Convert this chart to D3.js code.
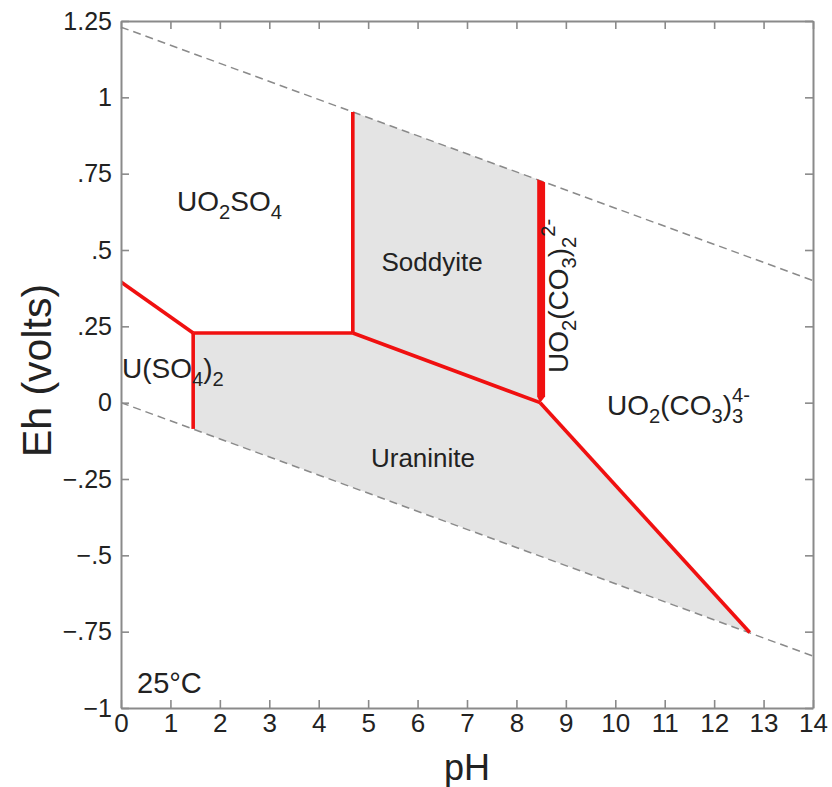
<!DOCTYPE html>
<html>
<head>
<meta charset="utf-8">
<script src="https://cdn.jsdelivr.net/npm/d3@7"></script>
<style>
  html, body { margin: 0; padding: 0; background: #fff; }
  svg { display: block; font-family: "Liberation Sans", Arial, Helvetica, sans-serif; }
</style>
</head>
<body>
<svg id="chart" width="832" height="787"></svg>
<script>
// Eh–pH diagram for the U–S–C–O–H system at 25 °C

const phTicks = [0, 1, 2, 3, 4, 5, 6, 7, 8, 9, 10, 11, 12, 13, 14];
const ehTicks = [-1, -0.75, -0.5, -0.25, 0, 0.25, 0.5, 0.75, 1, 1.25];
const ehTickLabels = ["\u22121", "\u2212.75", "\u2212.5", "\u2212.25", "0", ".25", ".5", ".75", "1", "1.25"];

// water stability limits (pH, Eh)
const upperWater = [[0, 1.23], [14, 0.40]];
const lowerWater = [[0, 0.0], [14, -0.83]];

// solid stability fields (pH, Eh)
const soddyiteField = [[4.69, 0.228], [4.69, 0.952], [8.46, 0.729], [8.46, 0.0], [8.48, 0.0]];
const uraniniteField = [[1.46, 0.228], [4.69, 0.228], [8.48, 0.0], [12.72, -0.753], [1.46, -0.086]];

// predominance boundaries (pH, Eh)
const boundaries = [
  [[0, 0.395], [1.46, 0.228]],
  [[1.46, 0.228], [1.46, -0.086]],
  [[1.46, 0.228], [4.69, 0.228]],
  [[4.69, 0.228], [4.69, 0.952]],
  [[4.69, 0.228], [8.48, 0.0]],
  [[8.48, 0.0], [12.72, -0.753]]
];
// narrow UO2(CO3)2 2- field, drawn as a filled band
const dicarbonateBand = [[8.42, 0.732], [8.58, 0.722], [8.58, 0.02], [8.48, 0.0], [8.42, 0.02]];

const svg = d3.select("#chart");
const x = d3.scaleLinear().domain([0, 14]).range([121, 813]);
const y = d3.scaleLinear().domain([-1, 1.25]).range([708, 21]);
const line = d3.line().x(d => x(d[0])).y(d => y(d[1]));

// clip to plot box
svg.append("clipPath").attr("id", "plot").append("rect")
  .attr("x", x(0)).attr("y", y(1.25)).attr("width", x(14) - x(0)).attr("height", y(-1) - y(1.25));

const plot = svg.append("g").attr("clip-path", "url(#plot)");

[soddyiteField, uraniniteField].forEach(f => {
  plot.append("path").attr("d", line(f) + "Z").attr("fill", "#e4e4e4").attr("stroke", "none");
});

[upperWater, lowerWater].forEach(w => {
  plot.append("path").attr("d", line(w)).attr("fill", "none")
    .attr("stroke", "#8a8a8a").attr("stroke-width", 1.5).attr("stroke-dasharray", "8,5");
});

boundaries.forEach(b => {
  plot.append("path").attr("d", line(b)).attr("fill", "none")
    .attr("stroke", "#f01010").attr("stroke-width", 3.6).attr("stroke-linecap", "butt");
});
plot.append("path").attr("d", line(dicarbonateBand) + "Z").attr("fill", "#f01010").attr("stroke", "none");

// axes: labelled bottom/left, tick-only top/right, ticks pointing inward
const axisColor = "#8a8a8a";
function styleAxis(g) {
  g.select(".domain").attr("stroke", axisColor).attr("stroke-width", 2);
  g.selectAll(".tick line").attr("stroke", axisColor).attr("stroke-width", 1.6);
  g.selectAll(".tick text").attr("fill", "#222").attr("font-family", "Liberation Sans, Arial, sans-serif");
}

svg.append("g").attr("transform", `translate(0,${y(-1)})`)
  .call(d3.axisBottom(x).tickValues(phTicks).tickSizeInner(-8).tickSizeOuter(0).tickPadding(6).tickFormat(d3.format("d")))
  .call(styleAxis)
  .call(g => g.selectAll(".tick text").attr("font-size", 26));

svg.append("g").attr("transform", `translate(${x(0)},0)`)
  .call(d3.axisLeft(y).tickValues(ehTicks).tickSizeInner(-8).tickSizeOuter(0).tickPadding(9)
    .tickFormat((d, i) => ehTickLabels[i]))
  .call(styleAxis)
  .call(g => g.selectAll(".tick text").attr("font-size", 25));

svg.append("g").attr("transform", `translate(0,${y(1.25)})`)
  .call(d3.axisTop(x).tickValues(phTicks).tickSizeInner(-8).tickSizeOuter(0).tickFormat(""))
  .call(styleAxis);

svg.append("g").attr("transform", `translate(${x(14)},0)`)
  .call(d3.axisRight(y).tickValues(ehTicks).tickSizeInner(-8).tickSizeOuter(0).tickFormat(""))
  .call(styleAxis);

// axis titles
svg.append("text").attr("x", (x(0) + x(14)) / 2).attr("y", 780)
  .attr("text-anchor", "middle").attr("font-size", 36).attr("fill", "#222").text("pH");
svg.append("text").attr("transform", `translate(51,${(y(-1) + y(1.25)) / 2 + 6}) rotate(-90)`)
  .attr("text-anchor", "middle").attr("font-size", 41).attr("fill", "#222").text("Eh (volts)");

// field labels with sub/superscripts: parts = [[text, kind], ...]
// kind: "n" normal, "sub", "sup", "stack" (superscript placed above the preceding subscript)
function chemLabel(parent, px, py, parts, size, anchor, rotate) {
  const t = parent.append("text").attr("font-size", size).attr("fill", "#222")
    .attr("text-anchor", anchor || "start");
  if (rotate) t.attr("transform", `translate(${px},${py}) rotate(${rotate})`);
  else t.attr("x", px).attr("y", py);
  let shift = 0;
  let prev = null;
  parts.forEach(([s, kind]) => {
    const target = kind === "sub" ? size * 0.28 : (kind === "sup" || kind === "stack") ? -size * 0.45 : 0;
    const span = t.append("tspan").attr("dy", target - shift)
      .attr("font-size", kind === "n" ? size : size * 0.72).text(s);
    if (kind === "stack" && prev) {
      const w = prev.node().getComputedTextLength();
      span.attr("dx", -w);
    }
    shift = target;
    prev = span;
  });
  return t;
}

const formulaSize = 28;
const nameSize = 26;
chemLabel(svg, 177, 211, [["UO", "n"], ["2", "sub"], ["SO", "n"], ["4", "sub"]], formulaSize);
chemLabel(svg, 432, 271, [["Soddyite", "n"]], nameSize, "middle");
chemLabel(svg, 122, 378, [["U(SO", "n"], ["4", "sub"], [")", "n"], ["2", "sub"]], formulaSize);
chemLabel(svg, 423, 467, [["Uraninite", "n"]], nameSize, "middle");
chemLabel(svg, 607, 415, [["UO", "n"], ["2", "sub"], ["(CO", "n"], ["3", "sub"], [")", "n"], ["3", "sub"], ["4-", "stack"]], formulaSize);
chemLabel(svg, 568, 373, [["UO", "n"], ["2", "sub"], ["(CO", "n"], ["3", "sub"], [")", "n"], ["2", "sub"], ["2-", "sup"]], formulaSize, "start", -90);
chemLabel(svg, 137, 693, [["25°C", "n"]], 29);
</script>
</body>
</html>
